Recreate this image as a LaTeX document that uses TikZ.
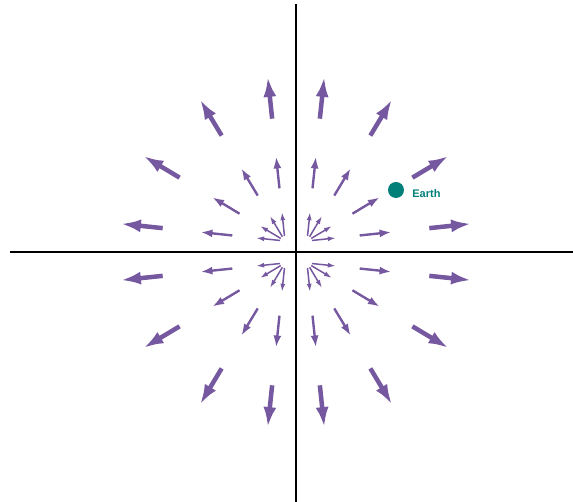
\documentclass[tikz,border=0pt]{standalone}
\usepackage{fontspec}
\setsansfont{Liberation Sans}
\usetikzlibrary{arrows.meta, positioning}
\definecolor{fieldpurple}{RGB}{118, 88, 160}
\definecolor{earthteal}{RGB}{0, 128, 120}

\begin{document}
\begin{tikzpicture}[x=1pt, y=1pt,
    axisline/.style={line width=1.6pt, black},
    fieldinner/.style={fieldpurple, line width=1.5pt, -{Latex[length=8pt, width=5pt]}},
    fieldmiddle/.style={fieldpurple, line width=2.4pt, -{Latex[length=12pt, width=8pt]}},
    fieldouter/.style={fieldpurple, line width=4.5pt, -{Latex[length=20pt, width=13pt]}},
    earthtext/.style={text=earthteal, font=\sffamily\bfseries\fontsize{11}{13}\selectfont, inner sep=0pt}]
    \useasboundingbox (-296,-250) rectangle (277,252);

    % Axes
    \coordinate (top) at (0,248);
    \coordinate (bottom) at (0,-250);
    \coordinate (left) at (-286,0);
    \coordinate (right) at (277,0);
    \draw[axisline] (left) -- (right);
    \draw[axisline] (top) -- (bottom);

    % Field arrows: one fan per quadrant, three rings
    \foreach \sx/\sy in {1/1, -1/1, -1/-1, 1/-1}{
        \foreach \r/\R/\kind in {5/29/fieldinner, 53/85/fieldmiddle, 123/165/fieldouter}{
            \foreach \a in {6, 31, 59, 84}{
                \draw[\kind] ({\sx*(11+\r*cos(\a))}, {\sy*(11+\r*sin(\a))})
                    -- ({\sx*(11+\R*cos(\a))}, {\sy*(11+\R*sin(\a))});
            }
        }
    }

    % Earth
    \node[circle, fill=earthteal, minimum size=16pt, inner sep=0pt] (earth) at (100,62) {};
    \node[earthtext, anchor=base west] (earthlabel) at ([xshift=8pt, yshift=-8pt]earth.east) {Earth};
\end{tikzpicture}
\end{document}
